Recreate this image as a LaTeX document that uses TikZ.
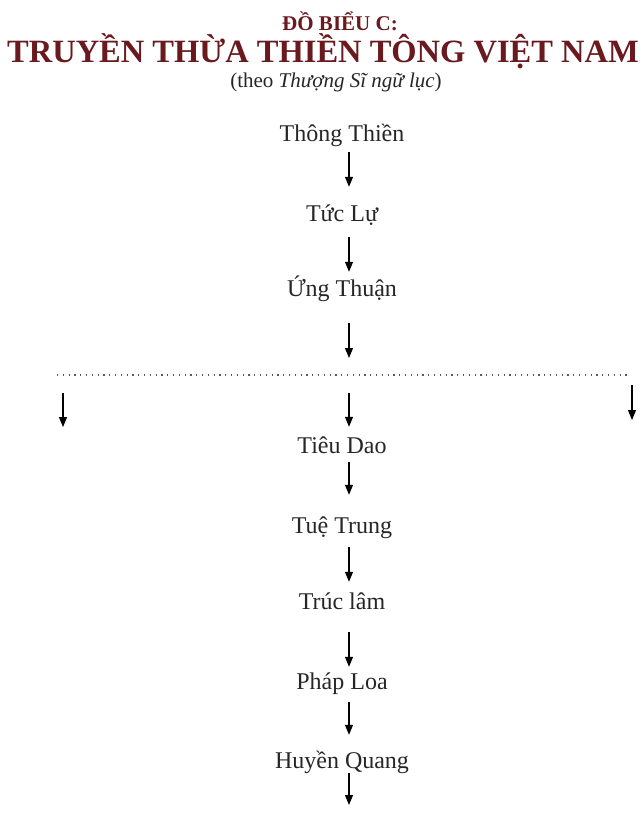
\documentclass[tikz,border=0pt]{standalone}
\usepackage{fontspec}
\setmainfont{Liberation Serif}
\usetikzlibrary{arrows.meta}
\definecolor{titlered}{HTML}{6A1A1E}

\begin{document}
\begin{tikzpicture}[x=1pt,y=-1pt,
    lbl/.style={font=\fontsize{24}{26}\selectfont, text=black!85, inner sep=0pt, text height=17pt, text depth=5pt},
    arr/.style={-{Triangle[length=10pt,width=8pt]}, line width=1.1pt}]

\useasboundingbox (0,0) rectangle (644,816);

\node[anchor=base, inner sep=0pt, font=\bfseries\fontsize{21}{23}\selectfont, text=titlered] (dobieu) at (340,31) {ĐỒ BIỂU C:};
\node[anchor=base, inner sep=0pt, font=\bfseries\fontsize{32.5}{34}\selectfont, text=titlered] (tieude) at (323,63) {TRUYỀN THỪA THIỀN TÔNG VIỆT NAM};
\node[anchor=base, inner sep=0pt, font=\fontsize{21}{23}\selectfont, text=black!85] (theo) at (336,87) {(theo \textit{Thượng Sĩ ngữ lục})};

\foreach \n/\y/\t in {thongthien/135/Thông Thiền, tuclu/215/Tức Lự, ungthuan/290/Ứng Thuận,
    tieudao/447/Tiêu Dao, tuetrung/527/Tuệ Trung, truclam/603/Trúc lâm,
    phaploa/683/Pháp Loa, huyenquang/762/Huyền Quang}
    \node[lbl] (\n) at (342,\y) {\t};

\coordinate (dl) at (57,375);
\coordinate (dr) at (630,375);
\coordinate (dm) at (349,375);
\draw[black!65, line width=1.2pt, dash pattern=on 1.2pt off 4.6pt] (dl) -- (dr);

\foreach \a/\b/\s/\e in {thongthien/tuclu/6/17, tuclu/ungthuan/11/7, tieudao/tuetrung/4/21,
    tuetrung/truclam/9/10, truclam/phaploa/18/5, phaploa/huyenquang/8/16}
    \draw[arr, shorten <=\s pt, shorten >=\e pt] ([xshift=7pt]\a.south) -- ([xshift=7pt]\b.north);

\draw[arr, shorten <=22pt, shorten >=17pt] ([xshift=7pt]ungthuan.south) -- (dm);
\draw[arr, shorten <=18pt, shorten >=9pt] (dm) -- ([xshift=7pt]tieudao.north);

\coordinate (lt) at (63,393);
\coordinate (lb) at (63,427);
\coordinate (rt) at (632,385);
\coordinate (rb) at (632,420);
\draw[arr] (lt) -- (lb);
\draw[arr] (rt) -- (rb);

\coordinate (hq) at (349,805);
\draw[arr] ([xshift=7pt]huyenquang.south) -- (hq);

\end{tikzpicture}
\end{document}
